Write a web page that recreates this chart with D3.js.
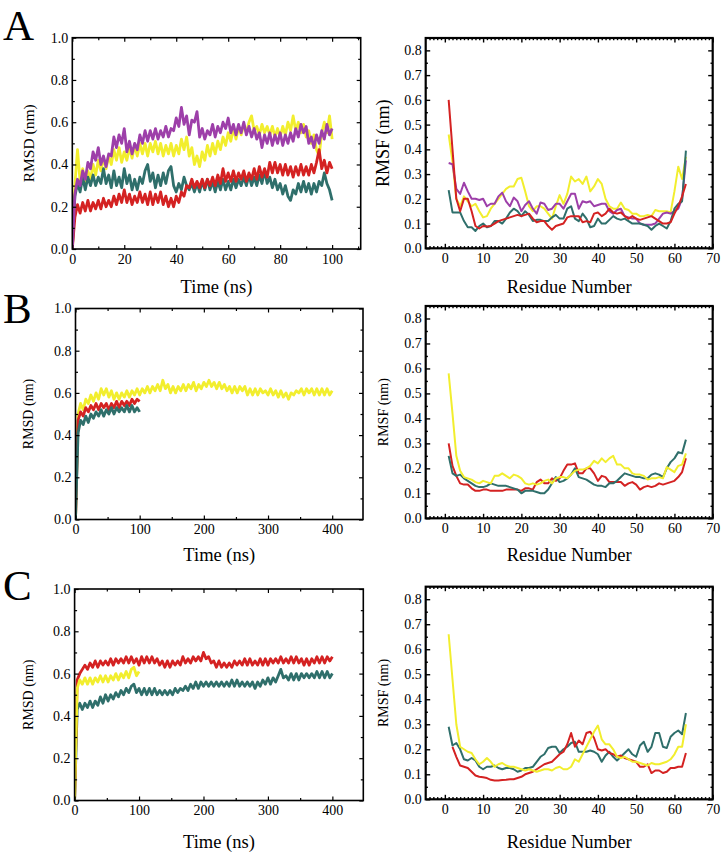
<!DOCTYPE html>
<html><head><meta charset="utf-8">
<script src="https://cdn.jsdelivr.net/npm/d3@7"></script>
<style>
body{margin:0;background:#fff}
svg{display:block}
text{font-family:"Liberation Serif","Times New Roman",serif;fill:#000}
</style>
</head><body>
<svg id="chart" width="723" height="854"></svg>
<script>
// ================= DATA =================
// RMSD time steps (ns between successive values)
const stepA = 1;
const stepBC = 4;

// Panel A RMSD (0..100 ns, 1 ns step)
const rmsdA_purple = [0.00,0.26,0.33,0.30,0.37,0.33,0.41,0.38,0.46,0.42,
0.48,0.40,0.44,0.39,0.45,0.44,0.53,0.48,0.54,0.50,
0.57,0.46,0.51,0.45,0.50,0.47,0.54,0.50,0.56,0.51,
0.56,0.52,0.57,0.52,0.56,0.53,0.58,0.53,0.57,0.56,
0.62,0.58,0.67,0.59,0.63,0.54,0.61,0.60,0.65,0.53,
0.57,0.52,0.56,0.54,0.59,0.53,0.58,0.55,0.60,0.57,
0.62,0.55,0.59,0.54,0.59,0.55,0.60,0.54,0.58,0.53,
0.57,0.52,0.55,0.48,0.54,0.50,0.55,0.49,0.54,0.50,
0.55,0.49,0.54,0.50,0.55,0.51,0.57,0.53,0.59,0.55,
0.58,0.50,0.53,0.48,0.54,0.50,0.56,0.52,0.59,0.54,
0.57];
const rmsdA_yellow = [0.00,0.30,0.47,0.32,0.38,0.31,0.37,0.33,0.40,0.35,
0.42,0.37,0.43,0.38,0.44,0.40,0.47,0.42,0.48,0.41,
0.46,0.42,0.48,0.43,0.49,0.44,0.50,0.45,0.50,0.44,
0.50,0.46,0.51,0.45,0.50,0.44,0.49,0.45,0.50,0.44,
0.49,0.45,0.52,0.47,0.53,0.44,0.48,0.40,0.44,0.39,
0.46,0.42,0.49,0.44,0.50,0.45,0.51,0.47,0.53,0.49,
0.55,0.51,0.57,0.52,0.58,0.54,0.59,0.55,0.60,0.63,
0.56,0.58,0.54,0.59,0.55,0.58,0.54,0.58,0.53,0.57,
0.53,0.58,0.54,0.60,0.56,0.63,0.56,0.60,0.55,0.59,
0.53,0.56,0.50,0.54,0.47,0.44,0.55,0.60,0.55,0.63,
0.52];
const rmsdA_teal = [0.00,0.25,0.31,0.27,0.34,0.28,0.34,0.30,0.35,0.30,
0.34,0.31,0.38,0.31,0.35,0.29,0.37,0.30,0.34,0.29,
0.38,0.31,0.35,0.28,0.33,0.28,0.34,0.31,0.37,0.40,
0.32,0.36,0.29,0.35,0.30,0.36,0.31,0.37,0.39,0.30,
0.27,0.31,0.28,0.34,0.30,0.28,0.31,0.27,0.31,0.27,
0.32,0.28,0.33,0.28,0.32,0.27,0.32,0.28,0.33,0.28,
0.32,0.28,0.33,0.29,0.33,0.30,0.34,0.30,0.35,0.30,
0.34,0.30,0.35,0.31,0.37,0.31,0.34,0.29,0.33,0.28,
0.31,0.26,0.30,0.25,0.23,0.28,0.26,0.31,0.27,0.32,
0.27,0.31,0.26,0.31,0.27,0.32,0.30,0.36,0.31,0.28,
0.23];
const rmsdA_red = [0.00,0.15,0.21,0.17,0.22,0.18,0.23,0.18,0.22,0.19,
0.23,0.19,0.24,0.20,0.23,0.20,0.25,0.21,0.26,0.22,
0.28,0.22,0.26,0.21,0.25,0.22,0.27,0.22,0.26,0.21,
0.27,0.21,0.26,0.22,0.27,0.21,0.25,0.20,0.24,0.20,
0.25,0.22,0.27,0.25,0.30,0.29,0.33,0.29,0.32,0.29,
0.33,0.29,0.33,0.30,0.34,0.30,0.35,0.31,0.38,0.32,
0.36,0.32,0.37,0.32,0.36,0.33,0.37,0.32,0.36,0.33,
0.38,0.33,0.39,0.34,0.38,0.34,0.41,0.36,0.41,0.36,
0.40,0.35,0.40,0.35,0.39,0.34,0.39,0.35,0.40,0.35,
0.39,0.35,0.40,0.36,0.41,0.47,0.38,0.42,0.36,0.41,
0.38];

// Panel B RMSD (4 ns step)
const rmsdB_yellow = [0.00,0.50,0.55,0.52,0.57,0.55,0.59,0.56,0.60,0.57,
0.62,0.59,0.62,0.58,0.61,0.57,0.60,0.57,0.60,0.58,
0.61,0.58,0.61,0.59,0.62,0.59,0.62,0.60,0.63,0.60,
0.63,0.61,0.64,0.61,0.66,0.62,0.64,0.60,0.63,0.60,
0.63,0.61,0.64,0.61,0.64,0.62,0.65,0.61,0.64,0.62,
0.65,0.63,0.66,0.63,0.65,0.62,0.65,0.62,0.64,0.61,
0.63,0.60,0.63,0.60,0.63,0.61,0.63,0.59,0.62,0.59,
0.62,0.59,0.62,0.60,0.61,0.59,0.62,0.59,0.61,0.58,
0.61,0.58,0.60,0.57,0.60,0.59,0.61,0.60,0.62,0.59,
0.62,0.60,0.62,0.59,0.62,0.59,0.62,0.59,0.62,0.59,
0.61];
const rmsdB_red = [0.00,0.47,0.51,0.49,0.53,0.51,0.54,0.52,0.55,0.52,
0.55,0.53,0.55,0.52,0.55,0.53,0.56,0.53,0.56,0.54,
0.56,0.54,0.57,0.55,0.57,0.56];
const rmsdB_teal = [0.00,0.41,0.47,0.45,0.49,0.46,0.50,0.48,0.51,0.49,
0.52,0.49,0.52,0.50,0.53,0.50,0.53,0.51,0.53,0.51,
0.54,0.51,0.54,0.51,0.53,0.51];

// Panel C RMSD (4 ns step)
const rmsdC_red = [0.00,0.57,0.60,0.62,0.64,0.62,0.65,0.63,0.66,0.63,
0.66,0.64,0.66,0.64,0.67,0.64,0.67,0.65,0.67,0.65,
0.68,0.65,0.68,0.65,0.67,0.64,0.68,0.65,0.68,0.65,
0.68,0.65,0.67,0.64,0.66,0.63,0.66,0.63,0.66,0.64,
0.66,0.64,0.68,0.65,0.67,0.65,0.68,0.66,0.68,0.66,
0.70,0.67,0.68,0.65,0.66,0.63,0.66,0.63,0.65,0.63,
0.65,0.63,0.66,0.64,0.66,0.64,0.67,0.64,0.67,0.64,
0.66,0.64,0.67,0.64,0.67,0.64,0.67,0.65,0.67,0.65,
0.68,0.65,0.67,0.65,0.68,0.65,0.68,0.65,0.67,0.64,
0.67,0.64,0.67,0.65,0.68,0.65,0.68,0.65,0.68,0.66,
0.68];
const rmsdC_teal = [0.00,0.43,0.46,0.43,0.46,0.44,0.47,0.44,0.47,0.45,
0.49,0.46,0.50,0.47,0.50,0.48,0.51,0.49,0.52,0.50,
0.53,0.51,0.54,0.55,0.51,0.53,0.50,0.53,0.50,0.53,
0.50,0.53,0.50,0.52,0.50,0.52,0.50,0.52,0.50,0.53,
0.51,0.53,0.52,0.54,0.52,0.55,0.53,0.56,0.53,0.56,
0.54,0.56,0.54,0.56,0.54,0.56,0.54,0.56,0.54,0.56,
0.54,0.57,0.54,0.57,0.54,0.56,0.54,0.56,0.54,0.56,
0.53,0.56,0.54,0.57,0.55,0.58,0.55,0.58,0.56,0.59,
0.62,0.58,0.59,0.57,0.60,0.57,0.60,0.57,0.60,0.58,
0.60,0.58,0.60,0.58,0.61,0.58,0.61,0.58,0.61,0.58,
0.60];
const rmsdC_yellow = [0.00,0.53,0.57,0.55,0.58,0.55,0.58,0.55,0.58,0.56,
0.59,0.56,0.59,0.56,0.59,0.57,0.60,0.57,0.60,0.58,
0.61,0.58,0.62,0.63,0.59,0.61];

// RMSF per residue (residues 1..63)
const rmsfA_red = [0.60,0.40,0.20,0.15,0.20,0.20,0.15,0.09,0.08,0.09,
0.088,0.09,0.10,0.11,0.115,0.12,0.125,0.13,0.135,0.13,
0.135,0.14,0.12,0.105,0.11,0.11,0.09,0.075,0.09,0.095,
0.10,0.125,0.13,0.13,0.13,0.105,0.11,0.105,0.14,0.145,
0.13,0.14,0.16,0.145,0.14,0.145,0.13,0.12,0.13,0.12,
0.115,0.12,0.125,0.13,0.12,0.11,0.10,0.10,0.105,0.14,
0.17,0.21,0.26];
const rmsfA_yellow = [0.46,0.35,0.20,0.17,0.21,0.19,0.17,0.18,0.15,0.125,
0.13,0.16,0.18,0.20,0.22,0.24,0.25,0.25,0.28,0.285,
0.23,0.17,0.15,0.17,0.17,0.16,0.14,0.12,0.17,0.215,
0.18,0.22,0.29,0.27,0.28,0.26,0.29,0.23,0.25,0.28,
0.26,0.20,0.17,0.16,0.16,0.185,0.16,0.155,0.14,0.14,
0.13,0.13,0.135,0.13,0.155,0.15,0.15,0.15,0.145,0.23,
0.33,0.28,0.37];
const rmsfA_purple = [0.345,0.34,0.24,0.22,0.265,0.23,0.20,0.20,0.195,0.20,
0.17,0.18,0.18,0.21,0.225,0.19,0.17,0.205,0.19,0.15,
0.175,0.19,0.16,0.14,0.185,0.18,0.155,0.16,0.18,0.18,
0.16,0.19,0.22,0.22,0.16,0.19,0.185,0.19,0.17,0.175,
0.18,0.18,0.15,0.14,0.155,0.16,0.13,0.125,0.12,0.12,
0.10,0.095,0.095,0.095,0.10,0.12,0.14,0.145,0.14,0.15,
0.16,0.20,0.355];
const rmsfA_teal = [0.235,0.145,0.145,0.145,0.11,0.085,0.085,0.07,0.09,0.10,
0.085,0.09,0.11,0.11,0.10,0.12,0.145,0.16,0.15,0.13,
0.15,0.135,0.11,0.115,0.115,0.11,0.11,0.125,0.135,0.12,
0.12,0.16,0.17,0.12,0.11,0.14,0.12,0.085,0.09,0.12,
0.10,0.10,0.115,0.13,0.12,0.115,0.12,0.11,0.10,0.10,
0.10,0.095,0.09,0.075,0.09,0.10,0.09,0.08,0.11,0.16,
0.18,0.19,0.395];

const rmsfB_yellow = [0.58,0.42,0.25,0.19,0.165,0.16,0.155,0.145,0.14,0.15,
0.145,0.14,0.17,0.17,0.18,0.17,0.16,0.175,0.17,0.16,
0.14,0.135,0.14,0.135,0.14,0.15,0.155,0.14,0.16,0.165,
0.165,0.16,0.175,0.19,0.195,0.195,0.20,0.21,0.23,0.22,
0.24,0.225,0.24,0.25,0.215,0.215,0.20,0.20,0.18,0.175,
0.175,0.17,0.155,0.16,0.16,0.165,0.16,0.205,0.195,0.185,
0.21,0.215,0.26];
const rmsfB_red = [0.30,0.21,0.17,0.14,0.135,0.135,0.12,0.11,0.11,0.115,
0.115,0.11,0.11,0.11,0.11,0.115,0.115,0.115,0.115,0.11,
0.12,0.12,0.115,0.145,0.155,0.14,0.14,0.16,0.15,0.16,
0.19,0.215,0.215,0.22,0.18,0.18,0.20,0.20,0.18,0.15,
0.17,0.165,0.145,0.145,0.145,0.145,0.13,0.14,0.145,0.135,
0.115,0.125,0.13,0.125,0.13,0.14,0.135,0.14,0.145,0.15,
0.165,0.185,0.24];
const rmsfB_teal = [0.25,0.18,0.17,0.175,0.16,0.15,0.14,0.13,0.125,0.125,
0.13,0.14,0.135,0.13,0.13,0.13,0.125,0.12,0.115,0.10,
0.11,0.11,0.11,0.105,0.10,0.10,0.115,0.14,0.165,0.145,
0.15,0.16,0.175,0.20,0.165,0.16,0.155,0.145,0.135,0.13,
0.13,0.125,0.14,0.14,0.15,0.165,0.18,0.175,0.17,0.165,
0.165,0.16,0.16,0.175,0.18,0.175,0.165,0.20,0.225,0.24,
0.265,0.26,0.315];

const rmsfC_yellow = [0.66,0.48,0.30,0.21,0.20,0.19,0.185,0.16,0.14,0.15,
0.165,0.15,0.13,0.14,0.145,0.135,0.13,0.13,0.125,0.12,
0.115,0.12,0.115,0.11,0.115,0.12,0.12,0.115,0.125,0.13,
0.12,0.12,0.13,0.16,0.15,0.18,0.21,0.24,0.27,0.295,
0.24,0.22,0.22,0.20,0.17,0.165,0.17,0.16,0.15,0.15,
0.145,0.14,0.135,0.145,0.14,0.14,0.145,0.15,0.16,0.18,
0.21,0.21,0.30];
const rmsfC_red = [null,0.21,0.17,0.135,0.13,0.125,0.11,0.095,0.09,0.088,
0.085,0.078,0.075,0.075,0.077,0.078,0.08,0.08,0.085,0.09,
0.10,0.105,0.11,0.12,0.13,0.14,0.145,0.15,0.165,0.18,
0.19,0.22,0.265,0.21,0.235,0.22,0.265,0.27,0.245,0.20,
0.195,0.20,0.185,0.18,0.17,0.175,0.165,0.16,0.155,0.15,
0.13,0.13,0.14,0.105,0.115,0.115,0.105,0.11,0.125,0.125,
0.13,0.13,0.185];
const rmsfC_teal = [0.29,0.215,0.225,0.20,0.16,0.155,0.165,0.155,0.13,0.12,
0.13,0.13,0.135,0.125,0.12,0.125,0.125,0.12,0.11,0.115,
0.125,0.125,0.13,0.15,0.17,0.18,0.205,0.21,0.21,0.185,
0.20,0.21,0.225,0.23,0.19,0.19,0.19,0.195,0.19,0.18,
0.15,0.175,0.19,0.17,0.155,0.17,0.185,0.20,0.18,0.17,
0.215,0.23,0.19,0.21,0.265,0.265,0.21,0.205,0.25,0.265,
0.275,0.26,0.345];

// Tick values
const rmsdYTicks = [0, 0.2, 0.4, 0.6, 0.8, 1.0];
const rmsdYMinor = [0.1, 0.3, 0.5, 0.7, 0.9];
const timeTicksA = [0, 20, 40, 60, 80, 100];
const timeMinorA = [10, 30, 50, 70, 90, 110];
const timeTicksBC = [0, 100, 200, 300, 400];
const timeMinorBC = [50, 150, 250, 350];
const rmsfYTicks = [0, 0.1, 0.2, 0.3, 0.4, 0.5, 0.6, 0.7, 0.8];
const rmsfYMinor = [0.05, 0.15, 0.25, 0.35, 0.45, 0.55, 0.65, 0.75];
const residueTicks = [0, 10, 20, 30, 40, 50, 60, 70];
const residueMinor = d3.range(-4, 70).filter(v => v % 10 !== 0);

// ================= STYLE / LAYOUT =================
const COL = {red: "#d42222", yellow: "#f2ee2e", teal: "#2f6f6b", purple: "#9d3fa9"};
const svg = d3.select("#chart");

function drawPanel(c) {
  const x = d3.scaleLinear().domain(c.xDomain).range([c.l, c.r]);
  const y = d3.scaleLinear().domain(c.yDomain).range([c.b, c.t]);
  const clipId = "clip" + c.id;
  svg.append("clipPath").attr("id", clipId).append("rect")
    .attr("x", c.l).attr("y", c.t).attr("width", c.r - c.l).attr("height", c.b - c.t);
  const gl = svg.append("g").attr("clip-path", `url(#${clipId})`);
  c.series.forEach(s => {
    const line = d3.line()
      .defined(d => d !== null)
      .x((d, i) => x(s.x0 + i * s.step))
      .y(d => y(d));
    gl.append("path").datum(s.values).attr("d", line)
      .attr("fill", "none").attr("stroke", s.color)
      .attr("stroke-width", c.lw).attr("stroke-linejoin", "round");
  });

  const tw = c.tickW;
  const styleAxis = (g, fs) => {
    g.select(".domain").remove();
    g.selectAll("line").attr("stroke", "#000").attr("stroke-width", tw);
    g.selectAll("text").attr("font-family", '"Liberation Serif","Times New Roman",serif')
      .attr("font-size", fs).attr("fill", "#000");
    g.attr("font-family", null).attr("font-size", null);
  };
  // bottom
  svg.append("g").attr("transform", `translate(0,${c.b})`)
    .call(d3.axisBottom(x).tickValues(c.xTicks).tickSize(-c.major).tickPadding(c.xPad).tickFormat(d3.format("d")))
    .call(g => styleAxis(g, c.tickFs));
  svg.append("g").attr("transform", `translate(0,${c.b})`)
    .call(d3.axisBottom(x).tickValues(c.xMinor).tickSize(-c.minor).tickFormat(""))
    .call(g => styleAxis(g, c.tickFs));
  // top
  svg.append("g").attr("transform", `translate(0,${c.t})`)
    .call(d3.axisTop(x).tickValues(c.xTicks).tickSize(-c.major).tickFormat(""))
    .call(g => styleAxis(g, c.tickFs));
  svg.append("g").attr("transform", `translate(0,${c.t})`)
    .call(d3.axisTop(x).tickValues(c.xMinor).tickSize(-c.minor).tickFormat(""))
    .call(g => styleAxis(g, c.tickFs));
  // left
  svg.append("g").attr("transform", `translate(${c.l},0)`)
    .call(d3.axisLeft(y).tickValues(c.yTicks).tickSize(-c.major).tickPadding(c.yPad).tickFormat(d3.format(".1f")))
    .call(g => styleAxis(g, c.tickFs));
  svg.append("g").attr("transform", `translate(${c.l},0)`)
    .call(d3.axisLeft(y).tickValues(c.yMinor).tickSize(-c.minor).tickFormat(""))
    .call(g => styleAxis(g, c.tickFs));
  // right
  svg.append("g").attr("transform", `translate(${c.r},0)`)
    .call(d3.axisRight(y).tickValues(c.yTicks).tickSize(-c.major).tickFormat(""))
    .call(g => styleAxis(g, c.tickFs));
  svg.append("g").attr("transform", `translate(${c.r},0)`)
    .call(d3.axisRight(y).tickValues(c.yMinor).tickSize(-c.minor).tickFormat(""))
    .call(g => styleAxis(g, c.tickFs));

  // frame
  svg.append("rect").attr("x", c.l).attr("y", c.t)
    .attr("width", c.r - c.l).attr("height", c.b - c.t)
    .attr("fill", "none").attr("stroke", "#000").attr("stroke-width", c.frameW);

  // titles
  svg.append("text").attr("x", (c.l + c.r) / 2).attr("y", c.xTitleY)
    .attr("text-anchor", "middle").attr("font-size", c.xTitleFs).text(c.xTitle);
  svg.append("text")
    .attr("transform", `translate(${c.yTitleX},${(c.t + c.b) / 2}) rotate(-90)`)
    .attr("text-anchor", "middle").attr("dominant-baseline", "central")
    .attr("font-size", c.yTitleFs).text(c.yTitle);
}

const leftBase = {lw: 2.8, tickW: 1.2, frameW: 1.6, major: 4, minor: 2.5, xPad: 5, yPad: 4, tickFs: 14,
  yDomain: [0, 1.0], yTicks: rmsdYTicks, yMinor: rmsdYMinor, xTitle: "Time (ns)", xTitleFs: 18.5,
  yTitle: "RMSD (nm)", yTitleX: 28};
const rightBase = {lw: 2, tickW: 1.4, frameW: 2.2, major: 4.5, minor: 2.2, xPad: 5, yPad: 4, tickFs: 14,
  xDomain: [-5, 70], yDomain: [0, 0.85], xTicks: residueTicks, xMinor: residueMinor,
  yTicks: rmsfYTicks, yMinor: rmsfYMinor, xTitle: "Residue Number", xTitleFs: 18.5,
  yTitle: "RMSF (nm)", yTitleX: 383, l: 425.7, r: 712.7};

const rmsf = (values, color) => ({values, color, x0: 1, step: 1});

// Row A
drawPanel(Object.assign({}, leftBase, {id: "AL", l: 72.3, r: 360.7, t: 37.7, b: 249,
  xDomain: [0, 111], xTicks: timeTicksA, xMinor: timeMinorA, xTitleY: 293, yTitleFs: 15.5,
  series: [
    {values: rmsdA_yellow, color: COL.yellow, x0: 0, step: stepA},
    {values: rmsdA_teal, color: COL.teal, x0: 0, step: stepA},
    {values: rmsdA_red, color: COL.red, x0: 0, step: stepA},
    {values: rmsdA_purple, color: COL.purple, x0: 0, step: stepA}
  ]}));
drawPanel(Object.assign({}, rightBase, {id: "AR", t: 38, b: 248.3, xTitleY: 293, yTitleFs: 18,
  series: [rmsf(rmsfA_yellow, COL.yellow), rmsf(rmsfA_purple, COL.purple),
           rmsf(rmsfA_teal, COL.teal), rmsf(rmsfA_red, COL.red)]}));

// Row B
drawPanel(Object.assign({}, leftBase, {id: "BL", l: 75.5, r: 363, t: 308.5, b: 519.5,
  xDomain: [0, 448], xTicks: timeTicksBC, xMinor: timeMinorBC, xTitleY: 561, yTitleFs: 14,
  series: [
    {values: rmsdB_yellow, color: COL.yellow, x0: 0, step: stepBC},
    {values: rmsdB_red, color: COL.red, x0: 0, step: stepBC},
    {values: rmsdB_teal, color: COL.teal, x0: 0, step: stepBC}
  ]}));
drawPanel(Object.assign({}, rightBase, {id: "BR", t: 306, b: 518.3, xTitleY: 561, yTitleFs: 14,
  series: [rmsf(rmsfB_red, COL.red), rmsf(rmsfB_teal, COL.teal), rmsf(rmsfB_yellow, COL.yellow)]}));

// Row C
drawPanel(Object.assign({}, leftBase, {id: "CL", l: 74.6, r: 363.3, t: 589, b: 800.5,
  xDomain: [0, 448], xTicks: timeTicksBC, xMinor: timeMinorBC, xTitleY: 848, yTitleFs: 14,
  series: [
    {values: rmsdC_teal, color: COL.teal, x0: 0, step: stepBC},
    {values: rmsdC_red, color: COL.red, x0: 0, step: stepBC},
    {values: rmsdC_yellow, color: COL.yellow, x0: 0, step: stepBC}
  ]}));
drawPanel(Object.assign({}, rightBase, {id: "CR", t: 586.7, b: 799.3, xTitleY: 848, yTitleFs: 14,
  series: [rmsf(rmsfC_teal, COL.teal), rmsf(rmsfC_red, COL.red), rmsf(rmsfC_yellow, COL.yellow)]}));

// Panel letters
[["A", 39.5], ["B", 323], ["C", 600]].forEach(([t, yb]) => {
  svg.append("text").attr("x", 3).attr("y", yb).attr("font-size", 43).text(t);
});
</script>
</body></html>
